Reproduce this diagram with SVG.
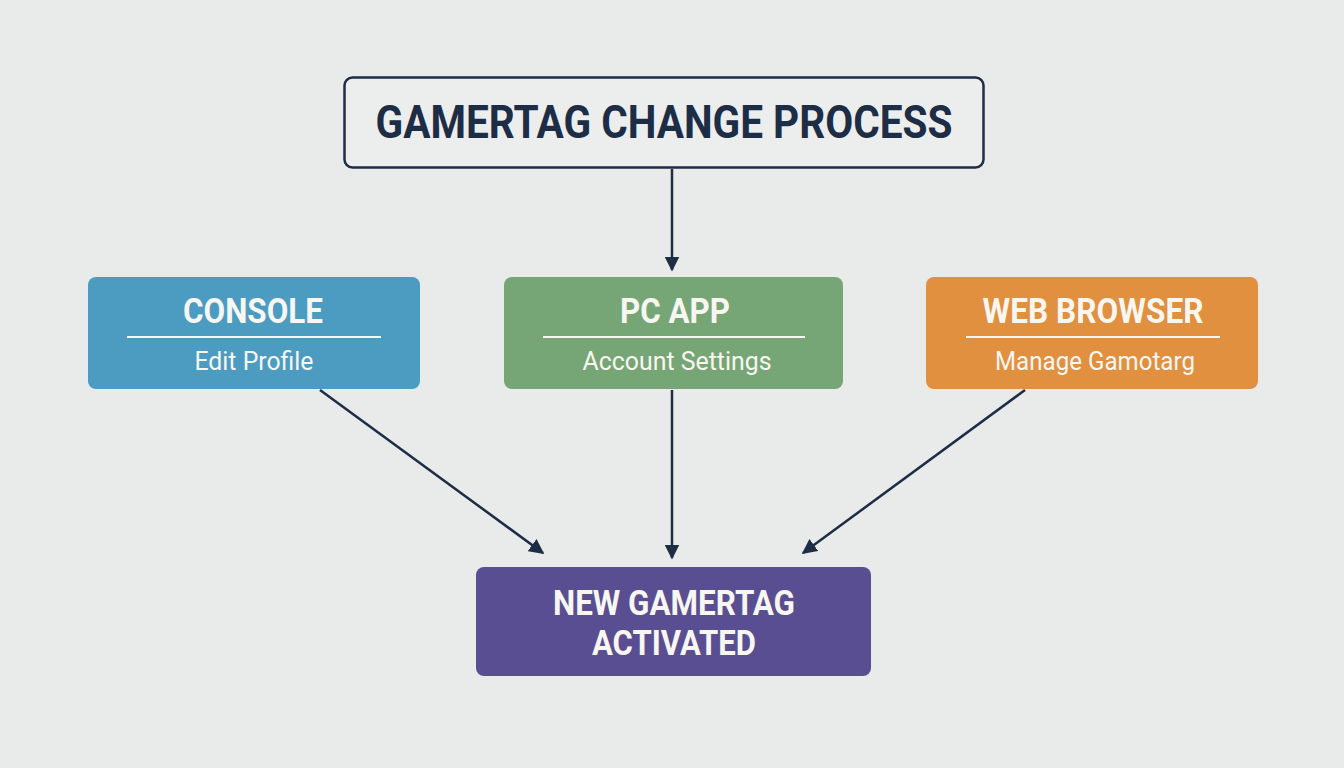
<svg xmlns="http://www.w3.org/2000/svg" width="1344" height="768" viewBox="0 0 1344 768">
<defs>
<marker id="ah" viewBox="0 0 10 10" refX="9" refY="5" markerWidth="6" markerHeight="6" markerUnits="strokeWidth" orient="auto">
<path d="M0,0 L10,5 L0,10 z" fill="#1d2d45"/>
</marker>
<style>
.t{font-family:Roboto,"Liberation Sans",sans-serif;font-weight:bold;fill:#f7f6f0;text-anchor:middle}
.s{font-family:Roboto,"Liberation Sans",sans-serif;fill:#f7f6f0;text-anchor:middle;font-size:26px}
.d{stroke:#f7f6f0;stroke-width:2}
.c{stroke:#1d2d45;stroke-width:2.5;fill:none;marker-end:url(#ah)}
</style>
</defs>
<rect width="1344" height="768" fill="#e9eaea"/>
<g id="title">
<rect x="344.5" y="77.5" width="639" height="90" rx="8" fill="#eceded" stroke="#1d2d45" stroke-width="2.5"/>
<text x="664" y="138" font-family="Roboto,'Liberation Sans',sans-serif" font-weight="bold" font-size="46" fill="#1d2d45" text-anchor="middle" textLength="577" lengthAdjust="spacingAndGlyphs">GAMERTAG CHANGE PROCESS</text>
</g>
<g id="console">
<rect x="88" y="277" width="332" height="112" rx="8" fill="#4b9cc0"/>
<text class="t" x="253" y="323" font-size="35" textLength="140" lengthAdjust="spacingAndGlyphs">CONSOLE</text>
<line class="d" x1="127" y1="337" x2="381" y2="337"/>
<text class="s" x="254" y="370" textLength="119" lengthAdjust="spacingAndGlyphs">Edit Profile</text>
</g>
<g id="pcapp">
<rect x="504" y="277" width="339" height="112" rx="8" fill="#77a676"/>
<text class="t" x="675" y="323" font-size="35" textLength="110" lengthAdjust="spacingAndGlyphs">PC APP</text>
<line class="d" x1="543" y1="337" x2="805" y2="337"/>
<text class="s" x="677" y="370" textLength="189" lengthAdjust="spacingAndGlyphs">Account Settings</text>
</g>
<g id="webbrowser">
<rect x="926" y="277" width="332" height="112" rx="8" fill="#e0903f"/>
<text class="t" x="1093" y="323" font-size="35" textLength="221" lengthAdjust="spacingAndGlyphs">WEB BROWSER</text>
<line class="d" x1="966" y1="337" x2="1220" y2="337"/>
<text class="s" x="1095" y="370" textLength="200" lengthAdjust="spacingAndGlyphs">Manage Gamotarg</text>
</g>
<g id="activated">
<rect x="476" y="567" width="395" height="109" rx="8" fill="#5a4e92"/>
<text class="t" x="674" y="615" font-size="35" textLength="242" lengthAdjust="spacingAndGlyphs">NEW GAMERTAG</text>
<text class="t" x="674" y="655" font-size="35" textLength="164" lengthAdjust="spacingAndGlyphs">ACTIVATED</text>
</g>
<g id="connectors">
<line class="c" x1="672" y1="169" x2="672" y2="270"/>
<line class="c" x1="320" y1="390" x2="543" y2="553"/>
<line class="c" x1="672" y1="390" x2="672" y2="558"/>
<line class="c" x1="1025" y1="390" x2="803" y2="553"/>
</g>
</svg>
